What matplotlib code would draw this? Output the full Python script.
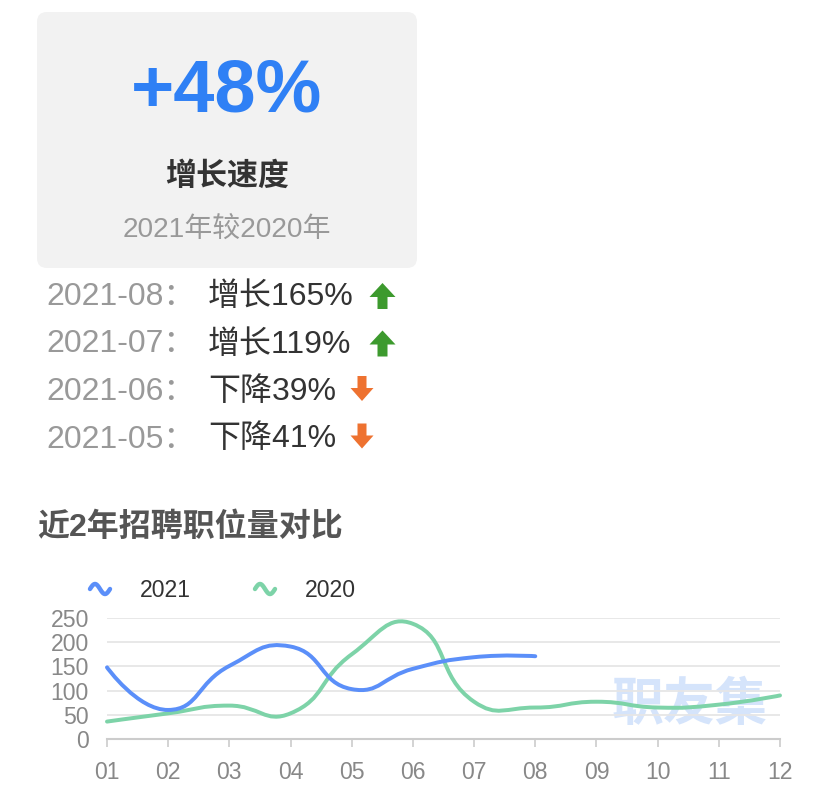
import matplotlib
matplotlib.use("Agg")
import matplotlib.pyplot as plt
from matplotlib.patches import FancyBboxPatch, Polygon, PathPatch
from matplotlib.path import Path
import numpy as np

# ---------------- data ----------------
months = ["01", "02", "03", "04", "05", "06", "07", "08", "09", "10", "11", "12"]
series_2021 = [148, 60, 151, 191, 103, 145, 169, 171]
series_2020 = [36, 53, 69, 53, 175, 238, 77, 65, 77, 65, 71, 90]
y_ticks = [0, 50, 100, 150, 200, 250]

headline_value = "+48%"
headline_label = "增长速度"
headline_sub = "2021年较2020年"

row_dates = ["2021-08：", "2021-07：", "2021-06：", "2021-05："]
row_texts = ["增长165%", "增长119%", "下降39%", "下降41%"]
row_up = [True, True, False, False]

chart_title = "近2年招聘职位量对比"
legend_names = ["2021", "2020"]
watermark = "职友集"

C_BLUE = "#5B8FF9"
C_GREEN = "#7DD3A8"

FONTS = ["Liberation Sans", "Noto Sans CJK SC", "DejaVu Sans"]
plt.rcParams["font.family"] = FONTS

W, H = 834, 801
fig = plt.figure(figsize=(W / 100, H / 100), dpi=100)
fig.patch.set_facecolor("white")

ov = fig.add_axes([0, 0, 1, 1])
ov.set_xlim(0, W)
ov.set_ylim(H, 0)
ov.axis("off")

PT = 72 / 100  # px -> pt

card = FancyBboxPatch((37, 12), 380, 256, boxstyle="round,pad=0,rounding_size=10",
                      facecolor="#F2F2F2", edgecolor="none")
ov.add_patch(card)
ov.text(227, 112, headline_value, ha="center", va="baseline", color="#2F80F5",
        fontsize=74 * PT, fontweight="bold")
ov.text(227, 185, headline_label, ha="center", va="baseline", color="#333333",
        fontsize=31 * PT, fontweight="bold")
ov.text(227, 237, headline_sub, ha="center", va="baseline", color="#999999",
        fontsize=28 * PT)

baselines = [305, 352.5, 400, 447.5]
for d, t, up, b in zip(row_dates, row_texts, row_up, baselines):
    ov.text(46, b, d, ha="left", va="baseline", color="#999999", fontsize=32 * PT)
    ov.text(208, b, t, ha="left", va="baseline", color="#333333", fontsize=32 * PT)
    if up:
        cx, top = 382.5, b - 22
        pts = [(cx, top), (cx + 13, top + 14), (cx + 5, top + 14), (cx + 5, top + 26),
               (cx - 5, top + 26), (cx - 5, top + 14), (cx - 13, top + 14)]
        ov.add_patch(Polygon(pts, closed=True, facecolor="#3D9A2E", edgecolor="none"))
    else:
        cx, top = 362, b - 24
        pts = [(cx - 4.5, top), (cx + 4.5, top), (cx + 4.5, top + 12), (cx + 11.5, top + 12),
               (cx, top + 25), (cx - 11.5, top + 12), (cx - 4.5, top + 12)]
        ov.add_patch(Polygon(pts, closed=True, facecolor="#EE7230", edgecolor="none"))

ov.text(37, 536, chart_title, ha="left", va="baseline", color="#555555",
        fontsize=32 * PT, fontweight="bold")

for x0, name, col in [(87, legend_names[0], C_BLUE), (252, legend_names[1], C_GREEN)]:
    xs = np.linspace(0, 1, 40)
    wave_x = x0 + 3 + xs * 20
    wave_y = 589 - 5 * np.sin(xs * 2 * np.pi)
    ov.plot(wave_x, wave_y, color=col, lw=3.2, solid_capstyle="round")
    ov.text(x0 + 53, 597, name, ha="left", va="baseline", color="#333333", fontsize=23 * PT)

# ---------------- chart ----------------
x_left, x_right, y_bot, y_top = 107, 780, 739, 618
ax = fig.add_axes([x_left / W, (H - y_bot) / H, (x_right - x_left) / W, (y_bot - y_top) / H])
ax.set_xlim(0, len(months) - 1)
ax.set_ylim(0, 250)
ax.patch.set_alpha(0)
for s in ["top", "right", "left"]:
    ax.spines[s].set_visible(False)
ax.spines["bottom"].set_color("#CCCCCC")
ax.spines["bottom"].set_linewidth(1.5)
ax.set_yticks(y_ticks)
ax.set_yticklabels([str(v) for v in y_ticks])
ax.set_xticks(range(len(months)))
ax.set_xticklabels(months)
ax.tick_params(axis="y", length=0, pad=13, labelsize=23 * PT, labelcolor="#888888")
ax.tick_params(axis="x", length=6, width=1.2, color="#CCCCCC", pad=10,
               labelsize=23 * PT, labelcolor="#888888")
for v in y_ticks[1:]:
    ax.axhline(v, color="#E6E6E6", lw=1.3, zorder=0)

fig.canvas.draw()


def smooth_path(xv, yv, smooth=0.5):
    # echarts-like bezier smoothing computed in display space
    pts = ax.transData.transform(np.column_stack([xv, yv]))
    n = len(pts)
    verts = [pts[0]]
    codes = [Path.MOVETO]
    cp0 = pts[0].copy()
    for i in range(1, n):
        cur = pts[i]
        prev = pts[i - 1]
        if i + 1 < n:
            nxt = pts[i + 1]
            v = nxt - prev
            d0 = np.hypot(*(cur - prev))
            d1 = np.hypot(*(nxt - cur))
            r = d1 / (d0 + d1)
            cp1 = cur - v * smooth * (1 - r)
            next_cp0 = cur + v * smooth * r
        else:
            cp1 = cur.copy()
            next_cp0 = cur.copy()
        verts += [cp0, cp1, cur]
        codes += [Path.CURVE4] * 3
        cp0 = next_cp0
    inv = ax.transData.inverted()
    return Path(inv.transform(np.array(verts)), codes)


for yv, col in [(series_2020, C_GREEN), (series_2021, C_BLUE)]:
    xv = np.arange(len(yv))
    p = smooth_path(xv, yv)
    ax.add_patch(PathPatch(p, facecolor="none", edgecolor=col, lw=3.6 * PT * 1.1,
                           capstyle="round", clip_on=False, zorder=3))

ov.text(690, 720, watermark, ha="center", va="baseline", color="#C4D9FA", alpha=0.7,
        fontsize=52 * PT, fontweight="bold", zorder=5)

fig.savefig("out.png", dpi=100, facecolor="white")
